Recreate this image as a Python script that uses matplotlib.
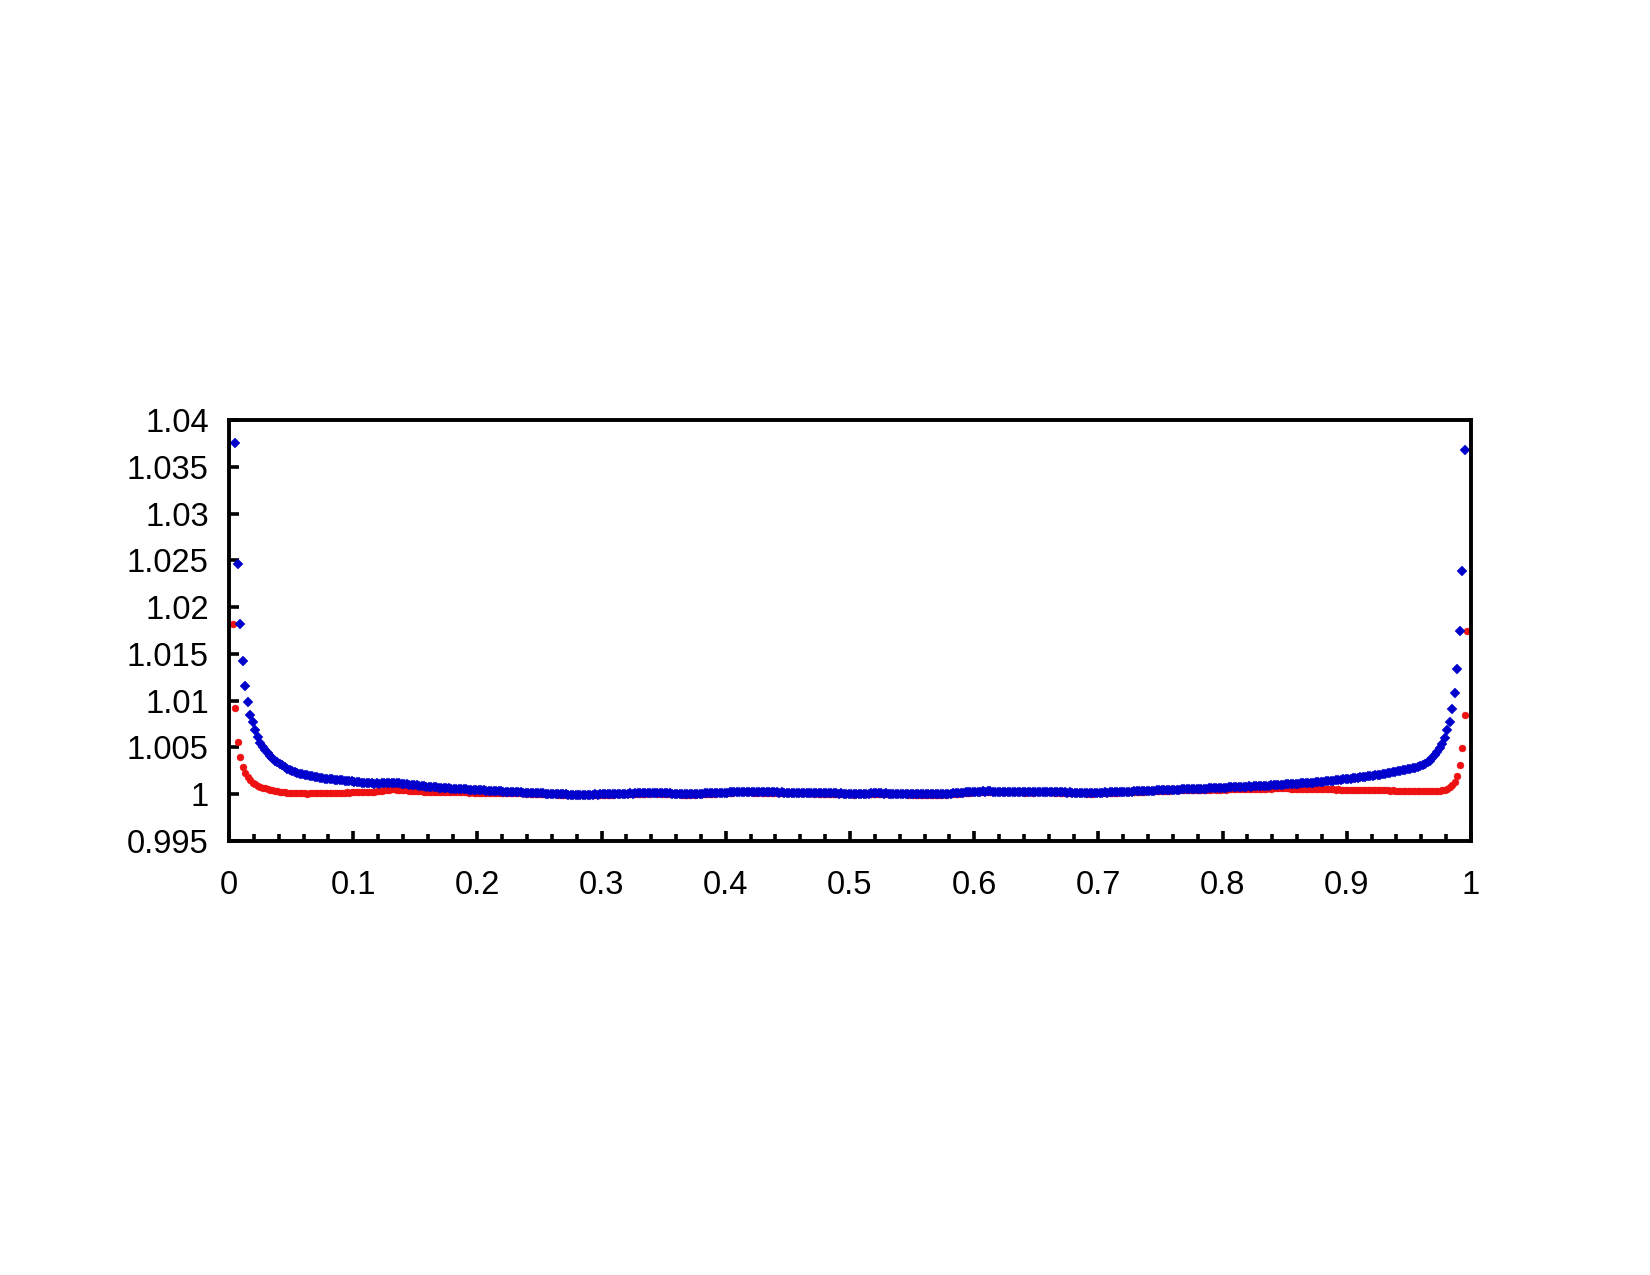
import numpy as np
import matplotlib
matplotlib.use('Agg')
import matplotlib.pyplot as plt
from matplotlib.ticker import MultipleLocator, FixedLocator

nan = np.nan

plt.rc('font', family=['Liberation Sans', 'DejaVu Sans'])
plt.rc('xtick', labelsize=23.5)    # fontsize of the tick labels
plt.rc('ytick', labelsize=23.5)

# bin centres: 0.001, 0.003, ... 0.999 (500 bins)
x_start = 0.001
x_step = 0.002
n_bins = 500

# deviation from 1, in units of 1e-5, one row per 0.05 in x (25 bins)
blue_dev = [
    nan, nan, 3750, 2460, 1820, 1420, 1160, 990, 850, 770, 690, 615, 548, 505, 470, 440, 412, 385, 360, 345, 328, 308, 290, 273, 257,
    243, 233, 226, 216, 211, 205, 201, 194, 191, 185, 182, 175, 173, 167, 166, 161, 159, 154, 153, 148, 147, 142, 141, 137, 136,
    134, 131, 127, 124, 122, 119, 117, 116, 114, 115, 113, 116, 119, 123, 125, 124, 121, 118, 115, 112, 108, 105, 102, 100, 97,
    94, 90, 88, 86, 82, 80, 78, 75, 72, 71, 69, 66, 65, 62, 61, 59, 58, 55, 54, 52, 51, 49, 48, 47, 45,
    44, 42, 41, 39, 38, 36, 35, 33, 32, 30, 29, 28, 26, 25, 23, 22, 21, 19, 18, 17, 16, 14, 13, 12, 11,
    10, 9, 7, 6, 5, 4, 2, 1, 0, -1, -2, -3, -4, -5, -4, -5, -6, -5, -4, -5, -3, -4, -2, -3, -1,
    -1, 0, 1, 0, 2, 3, 4, 5, 4, 6, 7, 8, 7, 9, 10, 11, 12, 11, 13, 12, 14, 13, 12, 13, 11,
    12, 10, 9, 7, 6, 4, 3, 2, 1, 2, 1, 3, 2, 4, 5, 6, 8, 9, 10, 12, 11, 13, 14, 15, 16,
    18, 20, 23, 25, 27, 28, 29, 28, 27, 26, 24, 23, 22, 24, 23, 21, 22, 20, 21, 19, 20, 18, 19, 17, 18,
    17, 16, 18, 16, 15, 17, 15, 14, 13, 14, 12, 13, 11, 12, 10, 11, 9, 10, 8, 9, 7, 8, 6, 5, 4,
    3, 2, 4, 3, 5, 6, 5, 7, 8, 9, 8, 10, 9, 7, 8, 6, 7, 5, 6, 4, 5, 3, 4, 2, 3,
    1, 2, 0, 1, -1, 0, -2, -1, 0, 1, 0, 2, 3, 2, 4, 6, 8, 10, 12, 15, 17, 19, 21, 23, 25,
    27, 28, 29, 30, 29, 31, 30, 28, 29, 27, 28, 26, 27, 25, 26, 27, 25, 24, 26, 25, 23, 24, 25, 23, 24,
    25, 24, 26, 27, 25, 26, 24, 23, 25, 22, 21, 20, 18, 19, 17, 16, 14, 15, 13, 14, 12, 13, 12, 14, 15,
    16, 17, 19, 18, 20, 22, 21, 23, 25, 24, 26, 28, 27, 29, 31, 30, 32, 34, 33, 35, 37, 36, 38, 40, 41,
    42, 44, 46, 45, 47, 49, 48, 50, 52, 51, 53, 55, 54, 56, 58, 57, 59, 61, 60, 62, 64, 63, 65, 67, 68,
    69, 71, 73, 72, 74, 76, 78, 77, 79, 81, 83, 82, 84, 86, 88, 87, 89, 91, 93, 94, 96, 98, 99, 101, 103,
    104, 106, 108, 110, 111, 113, 115, 117, 119, 121, 123, 125, 127, 129, 131, 134, 136, 139, 142, 145, 148, 151, 154, 158, 161,
    164, 167, 170, 173, 176, 180, 183, 187, 190, 194, 198, 202, 206, 210, 214, 219, 224, 229, 234, 240, 246, 252, 258, 264, 270,
    274, 279, 285, 292, 300, 312, 325, 340, 360, 385, 415, 450, 490, 540, 600, 690, 775, 910, 1085, 1335, 1740, 2390, 3680, nan, nan,
]

red_dev = [
    nan, 1820, 920, 560, 400, 290, 225, 180, 150, 125, 105, 90, 80, 70, 62, 55, 48, 42, 37, 32, 28, 24, 21, 18, 15,
    13, 11, 10, 9, 8, 9, 7, 8, 10, 9, 11, 12, 13, 12, 14, 15, 14, 16, 17, 16, 18, 17, 19, 18, 20,
    19, 21, 20, 22, 23, 22, 24, 26, 28, 31, 34, 38, 42, 46, 50, 52, 51, 49, 47, 44, 42, 40, 38, 36, 34,
    32, 30, 31, 29, 28, 27, 28, 26, 25, 26, 24, 23, 25, 22, 23, 21, 22, 20, 21, 19, 20, 18, 19, 17, 18,
    17, 16, 17, 15, 16, 14, 15, 13, 14, 12, 13, 11, 12, 10, 11, 9, 10, 8, 9, 7, 8, 6, 7, 5, 6,
    4, 3, 2, 1, 0, -1, -2, -3, -4, -5, -6, -7, -8, -9, -8, -9, -10, -9, -8, -9, -7, -8, -6, -7, -5,
    -6, -5, -4, -5, -3, -2, -1, 0, -1, 1, 2, 3, 2, 4, 5, 6, 7, 6, 8, 7, 9, 8, 7, 8, 6,
    7, 5, 4, 2, 1, -1, -2, -3, -4, -3, -4, -2, -3, -1, 0, 1, 3, 4, 5, 7, 6, 8, 9, 10, 11,
    13, 15, 18, 20, 22, 23, 24, 23, 22, 21, 19, 18, 17, 19, 18, 16, 17, 15, 16, 14, 15, 13, 14, 12, 13,
    12, 11, 13, 11, 10, 12, 10, 9, 8, 9, 7, 8, 6, 7, 5, 6, 4, 5, 3, 4, 2, 3, 1, 0, -1,
    -2, -3, -1, -2, 0, 1, 0, 2, 3, 4, 3, 5, 4, 2, 3, 1, 2, 0, 1, -1, 0, -2, -1, -3, -2,
    -4, -3, -5, -4, -6, -5, -7, -6, -5, -4, -5, -3, -2, -3, -1, 1, 3, 5, 7, 10, 12, 14, 16, 18, 20,
    22, 23, 24, 25, 24, 26, 25, 23, 24, 22, 23, 21, 22, 20, 21, 22, 20, 19, 21, 20, 18, 19, 20, 18, 19,
    20, 19, 21, 22, 20, 21, 19, 18, 20, 17, 16, 15, 13, 14, 12, 11, 9, 10, 8, 9, 7, 8, 7, 9, 10,
    11, 12, 14, 13, 15, 17, 16, 18, 20, 19, 21, 23, 22, 24, 26, 25, 27, 29, 28, 30, 31, 30, 32, 34, 35,
    36, 37, 39, 38, 40, 41, 40, 42, 43, 42, 44, 45, 44, 46, 47, 46, 48, 49, 48, 50, 49, 51, 50, 49, 50,
    51, 50, 52, 51, 53, 52, 54, 53, 55, 56, 55, 57, 58, 57, 59, 60, 59, 61, 62, 61, 63, 64, 63, 62, 64,
    63, 62, 61, 60, 59, 60, 58, 57, 58, 56, 55, 56, 54, 55, 53, 54, 52, 53, 51, 52, 50, 51, 49, 50, 48,
    49, 47, 48, 46, 47, 45, 46, 44, 45, 43, 44, 42, 43, 41, 42, 40, 41, 39, 40, 38, 39, 37, 38, 36, 37,
    35, 34, 35, 33, 34, 32, 33, 31, 32, 31, 33, 35, 38, 43, 50, 60, 75, 95, 130, 190, 310, 496, 850, 1740, nan,
]

x_ticks = [0, 0.1, 0.2, 0.3, 0.4, 0.5, 0.6, 0.7, 0.8, 0.9, 1]
x_labels = ['0', '0.1', '0.2', '0.3', '0.4', '0.5', '0.6', '0.7', '0.8', '0.9', '1']
y_ticks = [0.995, 1.0, 1.005, 1.01, 1.015, 1.02, 1.025, 1.03, 1.035, 1.04]
y_labels = ['0.995', '1', '1.005', '1.01', '1.015', '1.02', '1.025', '1.03', '1.035', '1.04']

x = x_start + x_step * np.arange(n_bins)
y_blue = 1.0 + np.array(blue_dev, dtype=float) * 1e-5
y_red = 1.0 + np.array(red_dev, dtype=float) * 1e-5

fig = plt.figure(figsize=(16.5, 12.75), dpi=100)
ax = fig.add_axes([229 / 1650, 1 - 841 / 1275, (1471 - 229) / 1650, (841 - 420) / 1275])

#======== red circles underneath, blue diamonds on top ===========
ax.plot(x, y_red, linestyle='none', marker='o', markersize=5.0,
        markerfacecolor='#ee1111', markeredgecolor='#ee1111', markeredgewidth=0.3)
ax.plot(x, y_blue, linestyle='none', marker='D', markersize=4.8,
        markerfacecolor='#0000cc', markeredgecolor='#0000cc', markeredgewidth=0.3)

ax.set_xlim(0, 1)
ax.set_ylim(0.995, 1.04)

ax.xaxis.set_major_locator(FixedLocator(x_ticks))
ax.set_xticklabels(x_labels)
ax.xaxis.set_minor_locator(MultipleLocator(0.02))
ax.yaxis.set_major_locator(FixedLocator(y_ticks))
ax.set_yticklabels(y_labels)

for s in ax.spines.values():
    s.set_linewidth(2.8)
    s.set_color('black')

ax.tick_params(axis='x', which='major', direction='in', length=7.5, width=2.6, pad=21,
               top=False)
ax.tick_params(axis='x', which='minor', direction='in', length=5, width=2.6, top=False)
ax.tick_params(axis='y', which='major', direction='in', length=7.5, width=2.6, pad=14.5,
               right=False)

plt.savefig('out.png', dpi=100)
plt.close()
